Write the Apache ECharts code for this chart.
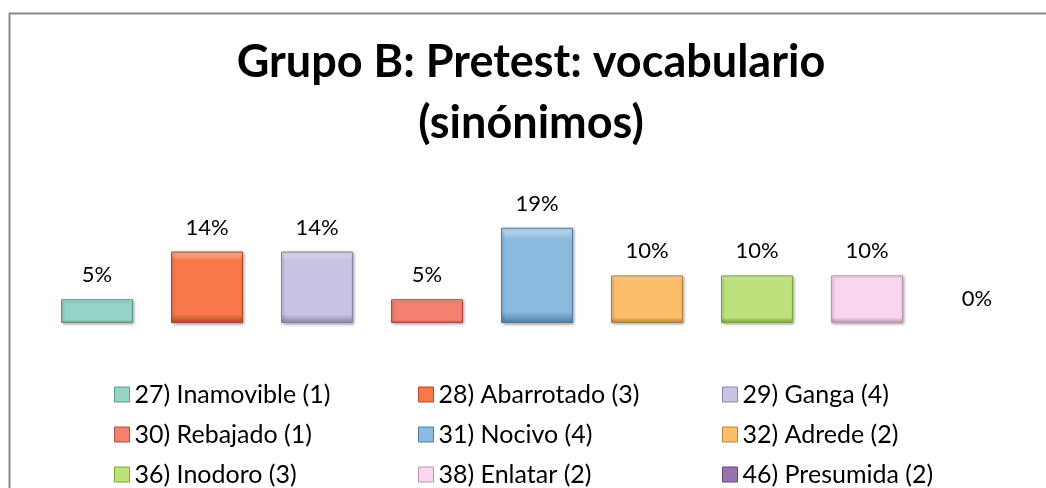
<!DOCTYPE html>
<html>
<head>
<meta charset="utf-8">
<script src="https://cdn.jsdelivr.net/npm/echarts@6/dist/echarts.min.js"></script>
<style>
  html, body { margin: 0; padding: 0; background: #fff; overflow: hidden; }
  #main { width: 1046px; height: 560px; }
</style>
</head>
<body>
<div id="main"></div>
<script>
// datos del gráfico
var categorias = [
  "27) Inamovible (1)", "28) Abarrotado (3)", "29) Ganga (4)",
  "30) Rebajado (1)", "31) Nocivo (4)", "32) Adrede (2)",
  "36) Inodoro (3)", "38) Enlatar (2)", "46) Presumida (2)"
];
var valores = [0.0476, 0.1429, 0.1429, 0.0476, 0.1905, 0.0952, 0.0952, 0.0952, 0];

// columnas de la leyenda (como en el original)
var leyendaCol1 = [categorias[0], categorias[3], categorias[6]];
var leyendaCol2 = [categorias[1], categorias[4], categorias[7]];
var leyendaCol3 = [categorias[2], categorias[5], categorias[8]];

var colores = ["#93D4C7", "#F8784B", "#C9C4E3", "#F4806F", "#8CBADF", "#FCBE6B", "#BDE27B", "#FAD6EE", "#9A72AE"];
var bordes  = ["#5E9C90", "#B04A24", "#8A84AA", "#B04C40", "#4F7FA6", "#B88434", "#7FA53F", "#B896AD", "#654580"];

function aclarar(hex, f) {
  var n = parseInt(hex.slice(1), 16);
  var r = (n >> 16) & 255, g = (n >> 8) & 255, b = n & 255;
  r = Math.round(r + (255 - r) * f);
  g = Math.round(g + (255 - g) * f);
  b = Math.round(b + (255 - b) * f);
  return "rgb(" + r + "," + g + "," + b + ")";
}

var chart = echarts.init(document.getElementById("main"));

var series = categorias.map(function (nombre, i) {
  var datos = categorias.map(function (c, j) { return j === i ? valores[i] : "-"; });
  var vacio = valores[i] === 0;
  return {
    name: nombre,
    type: "bar",
    stack: "total",
    barWidth: 72,
    data: datos,
    itemStyle: {
      color: new echarts.graphic.LinearGradient(0, 0, 0, 1, [
        { offset: 0, color: aclarar(colores[i], 0.55) },
        { offset: 0.12, color: colores[i] },
        { offset: 0.88, color: colores[i] },
        { offset: 1, color: bordes[i] }
      ]),
      borderColor: bordes[i],
      borderWidth: vacio ? 0 : 1,
      shadowBlur: vacio ? 0 : 3,
      shadowColor: "rgba(0,0,0,0.35)",
      shadowOffsetX: 1,
      shadowOffsetY: 1
    },
    label: {
      show: true,
      position: "top",
      distance: 13,
      color: "#000",
      fontFamily: "Lato",
      fontSize: 22,
      formatter: function (p) { return Math.round(p.value * 100) + "%"; }
    }
  };
});

function leyenda(datos, left) {
  return {
    data: datos.map(function (n) {
      var k = categorias.indexOf(n);
      return { name: n, itemStyle: { color: colores[k], borderColor: bordes[k], borderWidth: 1 } };
    }),
    orient: "vertical",
    left: left,
    top: 382,
    padding: 0,
    itemWidth: 15,
    itemHeight: 15,
    itemGap: 15,
    icon: "rect",
    selectedMode: false,
    textStyle: { fontFamily: "Lato", fontSize: 25, lineHeight: 22, color: "#000" }
  };
}

var option = {
  animation: false,
  backgroundColor: "#fff",
  title: {
    text: "Grupo B: Pretest: vocabulario\n(sinónimos)",
    left: 526,
    textAlign: "center",
    top: 27,
    textStyle: { fontFamily: "Lato", fontWeight: "bold", fontSize: 45, lineHeight: 61, color: "#000" }
  },
  graphic: [{
    type: "rect",
    shape: { x: 9.5, y: 13.5, width: 1200, height: 700 },
    style: { fill: "none", stroke: "#8a8a8a", lineWidth: 2 },
    silent: true
  }],
  legend: [leyenda(leyendaCol1, 114), leyenda(leyendaCol2, 418), leyenda(leyendaCol3, 722)],
  grid: { left: 42, width: 990, top: 223, height: 100 },
  xAxis: {
    type: "category",
    data: categorias,
    show: false
  },
  yAxis: {
    type: "value",
    min: 0,
    max: 0.2,
    show: false
  },
  series: series
};

chart.setOption(option);
</script>
</body>
</html>
